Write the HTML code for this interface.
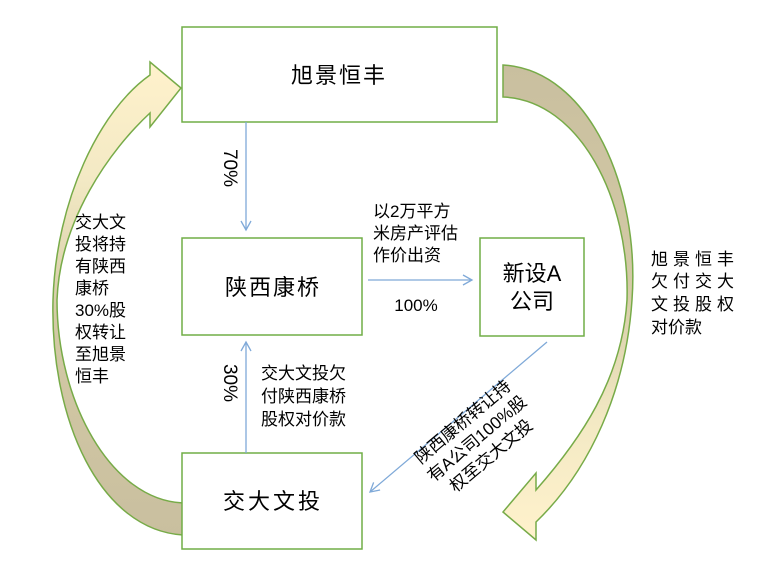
<!DOCTYPE html>
<html><head><meta charset="utf-8"><style>
html,body{margin:0;padding:0;background:#fff;width:766px;height:586px;overflow:hidden}
svg text{font-family:"Liberation Sans","Noto Sans CJK SC",sans-serif;fill:#000}
</style></head><body>
<svg width="766" height="586" viewBox="0 0 766 586" xmlns="http://www.w3.org/2000/svg">
<defs>
<linearGradient id="gr" x1="0" y1="0" x2="0" y2="1">
<stop offset="0" stop-color="#c9bf9f"/><stop offset="0.45" stop-color="#d3c9a5"/><stop offset="0.75" stop-color="#f3e9c4"/><stop offset="1" stop-color="#fff2cc"/></linearGradient>
<linearGradient id="gl" x1="0" y1="1" x2="0" y2="0">
<stop offset="0" stop-color="#c9bf9f"/><stop offset="0.45" stop-color="#d3c9a5"/><stop offset="0.75" stop-color="#f3e9c4"/><stop offset="1" stop-color="#fff2cc"/></linearGradient>
<marker id="ah" markerWidth="12" markerHeight="12" refX="10" refY="6" orient="auto" markerUnits="userSpaceOnUse">
<path d="M1,1 L10,6 L1,11" fill="none" stroke="#7fa9d8" stroke-width="1.3"/></marker>
</defs>
<path d="M503,65 C590,70 640,190 632,300 C626,390 590,470 536,522 L536,540 L503,512 L536,473 L536,490 C580,440 622,380 627,300 C630,200 580,100 503,97 Z" fill="url(#gr)" stroke="#77ab48" stroke-width="1.5"/>
<path d="M183,535 C100,530 50,420 53,300 C56,200 100,110 150,75 L150,62 L181,88 L150,127 L150,113 C110,150 60,220 57,300 C57,400 110,500 183,503 Z" fill="url(#gl)" stroke="#77ab48" stroke-width="1.5"/>
<rect x="182" y="27" width="315" height="95" fill="#fff" stroke="#70ad47" stroke-width="1.5"/>
<rect x="182" y="238" width="180" height="97" fill="#fff" stroke="#70ad47" stroke-width="1.5"/>
<rect x="480" y="238" width="104" height="98" fill="#fff" stroke="#70ad47" stroke-width="1.5"/>
<rect x="182" y="453" width="180" height="96" fill="#fff" stroke="#70ad47" stroke-width="1.5"/>
<text x="339" y="83" font-size="22" text-anchor="middle" letter-spacing="2">旭景恒丰</text>
<text x="273" y="295" font-size="22" text-anchor="middle" letter-spacing="2">陕西康桥</text>
<text x="532" y="281" font-size="22" text-anchor="middle">新设A</text>
<text x="532" y="309" font-size="22" text-anchor="middle">公司</text>
<text x="273" y="509" font-size="22" text-anchor="middle" letter-spacing="3">交大文投</text>
<line x1="246" y1="122" x2="246" y2="230" stroke="#7fa9d8" stroke-width="1.3" marker-end="url(#ah)"/>
<line x1="246" y1="453" x2="246" y2="342" stroke="#7fa9d8" stroke-width="1.3" marker-end="url(#ah)"/>
<line x1="368" y1="280" x2="472" y2="280" stroke="#7fa9d8" stroke-width="1.3" marker-end="url(#ah)"/>
<line x1="547" y1="342" x2="370" y2="492" stroke="#7fa9d8" stroke-width="1.3" marker-end="url(#ah)"/>
<text transform="translate(224,168) rotate(90)" font-size="19" text-anchor="middle">70%</text>
<text transform="translate(224,383) rotate(90)" font-size="19" text-anchor="middle">30%</text>
<g font-size="17">
<text x="373" y="217">以2万平方</text>
<text x="373" y="239">米房产评估</text>
<text x="373" y="261">作价出资</text>
<text x="416" y="311" text-anchor="middle">100%</text>
<text x="261" y="379">交大文投欠</text>
<text x="261" y="402">付陕西康桥</text>
<text x="261" y="425">股权对价款</text>
<text x="75" y="228">交大文</text>
<text x="75" y="250">投将持</text>
<text x="75" y="272">有陕西</text>
<text x="75" y="294">康桥</text>
<text x="75" y="316">30%股</text>
<text x="75" y="338">权转让</text>
<text x="75" y="360">至旭景</text>
<text x="75" y="382">恒丰</text>
<text x="651" y="265" letter-spacing="5">旭景恒丰</text>
<text x="651" y="287" letter-spacing="5">欠付交大</text>
<text x="651" y="310" letter-spacing="5">文投股权</text>
<text x="651" y="333">对价款</text>
<g transform="translate(478,440) rotate(-40)">
<text x="0" y="-18" text-anchor="middle">陕西康桥转让持</text>
<text x="0" y="4" text-anchor="middle">有A公司100%股</text>
<text x="0" y="26" text-anchor="middle">权至交大文投</text>
</g>
</g>
</svg>
</body></html>
